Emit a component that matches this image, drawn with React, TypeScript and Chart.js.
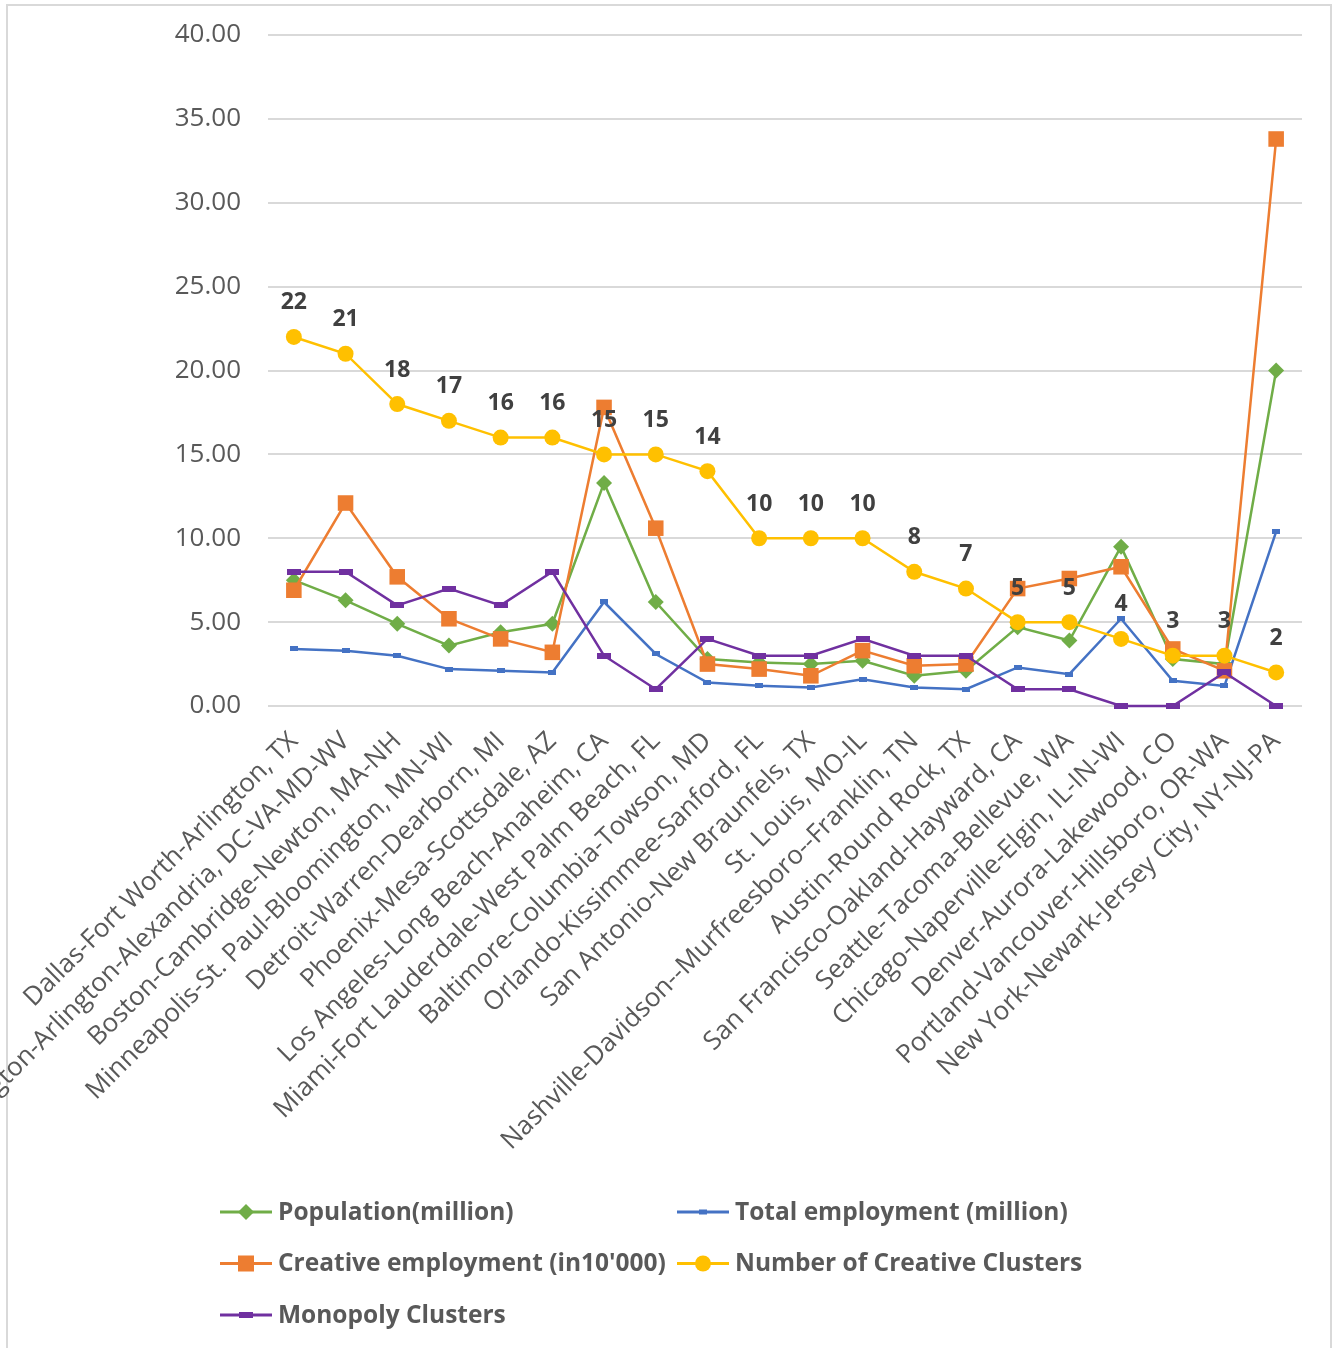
import React, { useEffect, useRef } from "react";
import { Chart, registerables } from "chart.js";

Chart.register(...registerables);

// Metropolitan areas, ordered by number of creative clusters
const categories = [
  "Dallas-Fort Worth-Arlington, TX",
  "Washington-Arlington-Alexandria, DC-VA-MD-WV",
  "Boston-Cambridge-Newton, MA-NH",
  "Minneapolis-St. Paul-Bloomington, MN-WI",
  "Detroit-Warren-Dearborn, MI",
  "Phoenix-Mesa-Scottsdale, AZ",
  "Los Angeles-Long Beach-Anaheim, CA",
  "Miami-Fort Lauderdale-West Palm Beach, FL",
  "Baltimore-Columbia-Towson, MD",
  "Orlando-Kissimmee-Sanford, FL",
  "San Antonio-New Braunfels, TX",
  "St. Louis, MO-IL",
  "Nashville-Davidson--Murfreesboro--Franklin, TN",
  "Austin-Round Rock, TX",
  "San Francisco-Oakland-Hayward, CA",
  "Seattle-Tacoma-Bellevue, WA",
  "Chicago-Naperville-Elgin, IL-IN-WI",
  "Denver-Aurora-Lakewood, CO",
  "Portland-Vancouver-Hillsboro, OR-WA",
  "New York-Newark-Jersey City, NY-NJ-PA",
];

const population = [7.5, 6.3, 4.9, 3.6, 4.4, 4.9, 13.3, 6.2, 2.8, 2.6, 2.5, 2.7, 1.8, 2.1, 4.7, 3.9, 9.5, 2.8, 2.5, 20.0];
const totalEmployment = [3.4, 3.3, 3.0, 2.2, 2.1, 2.0, 6.2, 3.1, 1.4, 1.2, 1.1, 1.6, 1.1, 1.0, 2.3, 1.9, 5.2, 1.5, 1.2, 10.4];
const creativeEmployment = [6.9, 12.1, 7.7, 5.2, 4.0, 3.2, 17.8, 10.6, 2.5, 2.2, 1.8, 3.3, 2.4, 2.5, 7.0, 7.6, 8.3, 3.4, 2.1, 33.8];
const creativeClusters = [22, 21, 18, 17, 16, 16, 15, 15, 14, 10, 10, 10, 8, 7, 5, 5, 4, 3, 3, 2];
const monopolyClusters = [8, 8, 6, 7, 6, 8, 3, 1, 4, 3, 3, 4, 3, 3, 1, 1, 0, 0, 2, 0];

const yTicks = { min: 0, max: 40, step: 5 };

const GREEN = "#70ad47";
const BLUE = "#4472c4";
const ORANGE = "#ed7d31";
const YELLOW = "#ffc000";
const PURPLE = "#7030a0";
const AXIS_TEXT = "#595959";
const FONT = "'Open Sans', 'Liberation Sans', sans-serif";

type MarkerKind = "diamond" | "smallBar" | "square" | "circle" | "bar";

function barMarker(w: number, h: number, color: string): HTMLCanvasElement {
  const c = document.createElement("canvas");
  c.width = w;
  c.height = h;
  const g = c.getContext("2d")!;
  g.fillStyle = color;
  g.fillRect(0, 0, w, h);
  return c;
}

function drawMarker(ctx: CanvasRenderingContext2D, kind: MarkerKind, x: number, y: number, color: string) {
  ctx.save();
  ctx.fillStyle = color;
  ctx.beginPath();
  if (kind === "diamond") {
    const r = 8;
    ctx.moveTo(x, y - r);
    ctx.lineTo(x + r, y);
    ctx.lineTo(x, y + r);
    ctx.lineTo(x - r, y);
    ctx.closePath();
    ctx.fill();
  } else if (kind === "square") {
    ctx.fillRect(x - 8, y - 8, 16, 16);
  } else if (kind === "circle") {
    ctx.arc(x, y, 8, 0, Math.PI * 2);
    ctx.fill();
  } else if (kind === "smallBar") {
    ctx.fillRect(x - 4, y - 2.5, 8, 5);
  } else {
    ctx.fillRect(x - 7, y - 3, 14, 6);
  }
  ctx.restore();
}

const legendItems: { label: string; color: string; kind: MarkerKind; col: number; row: number }[] = [
  { label: "Population(million)", color: GREEN, kind: "diamond", col: 0, row: 0 },
  { label: "Total employment (million)", color: BLUE, kind: "smallBar", col: 1, row: 0 },
  { label: "Creative employment (in10'000)", color: ORANGE, kind: "square", col: 0, row: 1 },
  { label: "Number of Creative Clusters", color: YELLOW, kind: "circle", col: 1, row: 1 },
  { label: "Monopoly Clusters", color: PURPLE, kind: "bar", col: 0, row: 2 },
];

// Two-column legend drawn beneath the rotated category labels
const gridLegend = {
  id: "gridLegend",
  afterDraw(chart: Chart) {
    const ctx = chart.ctx;
    const left = chart.chartArea.left - 48;
    const colGap = 457;
    const firstRow = chart.chartArea.bottom + 506;
    const rowGap = 51.5;
    ctx.save();
    ctx.font = `bold 24.5px ${FONT}`;
    ctx.textBaseline = "middle";
    ctx.textAlign = "left";
    for (const item of legendItems) {
      const x = left + item.col * colGap;
      const y = firstRow + item.row * rowGap;
      ctx.strokeStyle = item.color;
      ctx.lineWidth = 3;
      ctx.beginPath();
      ctx.moveTo(x, y);
      ctx.lineTo(x + 52, y);
      ctx.stroke();
      drawMarker(ctx, item.kind, x + 26, y, item.color);
      ctx.fillStyle = AXIS_TEXT;
      ctx.fillText(item.label, x + 58, y + 1);
    }
    ctx.restore();
  },
};

// Value labels above the creative-cluster points
const clusterLabels = {
  id: "clusterLabels",
  afterDatasetsDraw(chart: Chart) {
    const meta = chart.getDatasetMeta(3);
    const ctx = chart.ctx;
    ctx.save();
    ctx.font = `bold 23px ${FONT}`;
    ctx.fillStyle = "#404040";
    ctx.textAlign = "center";
    ctx.textBaseline = "middle";
    meta.data.forEach((pt: any, i: number) => {
      ctx.fillText(String(creativeClusters[i]), pt.x, pt.y - 34);
    });
    ctx.restore();
  },
};

export default function App() {
  const canvasRef = useRef<HTMLCanvasElement | null>(null);

  useEffect(() => {
    if (!canvasRef.current) return;
    const blueBar = barMarker(8, 5, BLUE);
    const purpleBar = barMarker(14, 6, PURPLE);

    const chart = new Chart(canvasRef.current, {
      type: "line",
      data: {
        labels: categories,
        datasets: [
          {
            label: "Population(million)",
            data: population,
            borderColor: GREEN,
            backgroundColor: GREEN,
            borderWidth: 2.5,
            pointStyle: "rectRot",
            pointRadius: 8,
            pointBorderWidth: 0,
            order: 5,
            clip: false,
          },
          {
            label: "Total employment (million)",
            data: totalEmployment,
            borderColor: BLUE,
            backgroundColor: BLUE,
            borderWidth: 2.5,
            pointStyle: blueBar,
            order: 4,
            clip: false,
          },
          {
            label: "Creative employment (in10'000)",
            data: creativeEmployment,
            borderColor: ORANGE,
            backgroundColor: ORANGE,
            borderWidth: 2.5,
            pointStyle: "rect",
            pointRadius: 11,
            pointBorderWidth: 0,
            order: 3,
            clip: false,
          },
          {
            label: "Number of Creative Clusters",
            data: creativeClusters,
            borderColor: YELLOW,
            backgroundColor: YELLOW,
            borderWidth: 2.5,
            pointStyle: "circle",
            pointRadius: 8,
            pointBorderWidth: 0,
            order: 2,
            clip: false,
          },
          {
            label: "Monopoly Clusters",
            data: monopolyClusters,
            borderColor: PURPLE,
            backgroundColor: PURPLE,
            borderWidth: 2.5,
            pointStyle: purpleBar,
            order: 1,
            clip: false,
          },
        ],
      },
      options: {
        responsive: false,
        animation: false,
        layout: { padding: { top: 35, right: 42, left: 0, bottom: 0 } },
        plugins: {
          legend: { display: false },
          tooltip: { enabled: false },
        },
        elements: { line: { tension: 0 } },
        scales: {
          x: {
            offset: true,
            grid: { display: false },
            border: { display: false },
            ticks: {
              autoSkip: false,
              maxRotation: 45,
              minRotation: 45,
              padding: 12,
              color: AXIS_TEXT,
              font: { family: FONT, size: 26 },
            },
            afterFit(scale: any) {
              scale.height = 642;
              scale.paddingLeft = 0;
              scale.paddingRight = 0;
              scale.paddingTop = 0;
              scale.paddingBottom = 0;
            },
          },
          y: {
            min: yTicks.min,
            max: yTicks.max,
            grid: { color: "#d9d9d9", lineWidth: 2, drawTicks: false },
            border: { display: false },
            ticks: {
              stepSize: yTicks.step,
              padding: 27,
              color: AXIS_TEXT,
              font: { family: FONT, size: 26 },
              callback: (v: any) => Number(v).toFixed(2),
            },
            afterFit(scale: any) {
              scale.width = 268;
              scale.paddingTop = 0;
              scale.paddingBottom = 0;
            },
          },
        },
      },
      plugins: [clusterLabels, gridLegend],
    });
    return () => chart.destroy();
  }, []);

  return (
    <div style={{ position: "absolute", left: 0, top: 0, width: 1344, height: 1348, background: "#fff", overflow: "hidden" }}>
      <div
        style={{
          position: "absolute",
          left: 6,
          top: 4,
          width: 1326,
          height: 1350,
          boxSizing: "border-box",
          border: "2px solid #d9d9d9",
        }}
      />
      <canvas ref={canvasRef} width={1344} height={1348} style={{ position: "absolute", left: 0, top: 0 }} />
    </div>
  );
}
